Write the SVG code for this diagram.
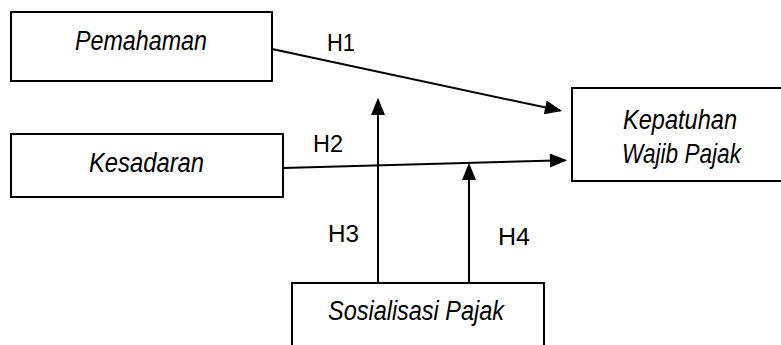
<svg xmlns="http://www.w3.org/2000/svg" width="781" height="345" viewBox="0 0 781 345">
<style>
.box{fill:#fff;stroke:#000;stroke-width:2}
.lbl{font-family:"Liberation Sans",Arial,sans-serif;font-style:italic;font-size:27px;fill:#000}
.h{font-family:"Liberation Sans",Arial,sans-serif;font-size:23px;fill:#000}
.con{stroke:#000;stroke-width:2;fill:none}
</style>
<defs>
<marker id="ah" markerUnits="userSpaceOnUse" markerWidth="18" markerHeight="14" viewBox="0 0 16 13" refX="14" refY="6.5" orient="auto">
<path d="M0,0 L16,6.5 L0,13 Z" fill="#000"/>
</marker>
</defs>
<rect width="781" height="345" fill="#fff"/>
<g id="pemahaman">
<rect class="box" x="11" y="12" width="261" height="69"/>
<text class="lbl" x="75" y="50" textLength="132" lengthAdjust="spacingAndGlyphs">Pemahaman</text>
</g>
<g id="kesadaran">
<rect class="box" x="11" y="134" width="272" height="63"/>
<text class="lbl" x="89" y="172" textLength="115" lengthAdjust="spacingAndGlyphs">Kesadaran</text>
</g>
<g id="kepatuhan">
<path class="box" d="M785,88 L572,88 L572,181 L785,181"/>
<text class="lbl" x="623" y="129" textLength="114" lengthAdjust="spacingAndGlyphs">Kepatuhan</text>
<text class="lbl" x="622" y="163" textLength="119" lengthAdjust="spacingAndGlyphs">Wajib Pajak</text>
</g>
<g id="sosialisasi">
<path class="box" d="M292,350 L292,283 L544,283 L544,350"/>
<text class="lbl" x="328" y="320" textLength="176" lengthAdjust="spacingAndGlyphs">Sosialisasi Pajak</text>
</g>
<g id="connectors">
<line class="con" x1="272" y1="49" x2="560" y2="110.6" marker-end="url(#ah)"/>
<line class="con" x1="283" y1="168" x2="565" y2="160.2" marker-end="url(#ah)"/>
<line class="con" x1="378" y1="283" x2="378" y2="100" marker-end="url(#ah)"/>
<line class="con" x1="469" y1="283" x2="469" y2="165" marker-end="url(#ah)"/>
</g>
<g id="labels">
<text class="h" x="327" y="51" textLength="28" lengthAdjust="spacingAndGlyphs">H1</text>
<text class="h" x="313" y="152" textLength="30" lengthAdjust="spacingAndGlyphs">H2</text>
<text class="h" x="328" y="242" textLength="31" lengthAdjust="spacingAndGlyphs">H3</text>
<text class="h" x="498" y="245" textLength="32" lengthAdjust="spacingAndGlyphs">H4</text>
</g>
</svg>
